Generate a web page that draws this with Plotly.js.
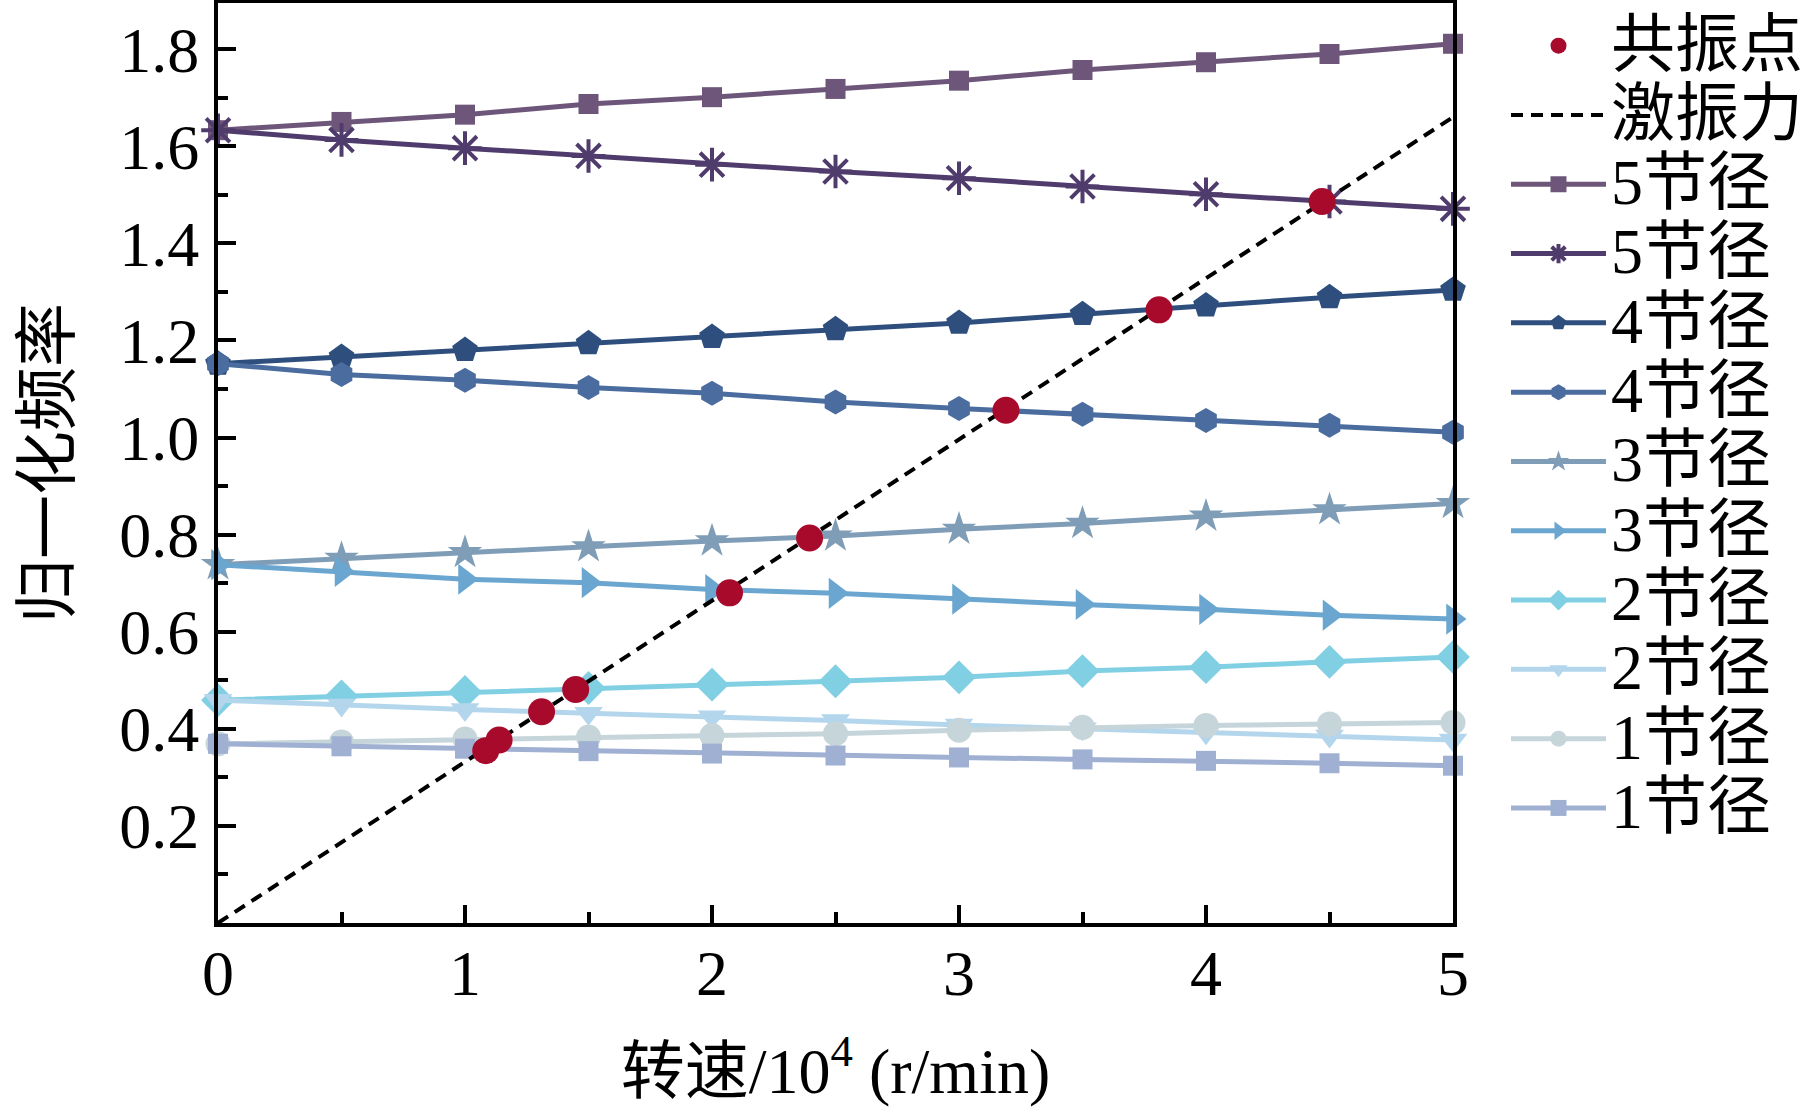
<!DOCTYPE html>
<html>
<head>
<meta charset="utf-8">
<script src="https://cdn.plot.ly/plotly-3.0.1.min.js"></script>
<style>html,body{margin:0;padding:0;background:#fff;}#chart{width:1819px;height:1112px;}</style>
</head>
<body>
<div id="chart"></div>
<script>
// ---- data ----
const speed = [0, 0.5, 1, 1.5, 2, 2.5, 3, 3.5, 4, 4.5, 5];

const nd5a = [1.633, 1.650, 1.665, 1.687, 1.701, 1.718, 1.735, 1.757, 1.773, 1.790, 1.811];
const nd5b = [1.633, 1.613, 1.596, 1.580, 1.562, 1.548, 1.534, 1.517, 1.501, 1.486, 1.471];
const nd4a = [1.152, 1.166, 1.180, 1.194, 1.207, 1.223, 1.236, 1.254, 1.272, 1.289, 1.304];
const nd4b = [1.152, 1.130, 1.118, 1.103, 1.091, 1.073, 1.060, 1.048, 1.035, 1.025, 1.011];
const nd3a = [0.738, 0.751, 0.763, 0.775, 0.787, 0.797, 0.811, 0.823, 0.838, 0.851, 0.864];
const nd3b = [0.738, 0.724, 0.708, 0.701, 0.687, 0.679, 0.667, 0.656, 0.646, 0.634, 0.626];
const nd2a = [0.459, 0.467, 0.476, 0.484, 0.491, 0.498, 0.506, 0.519, 0.527, 0.538, 0.548];
const nd2b = [0.459, 0.449, 0.440, 0.432, 0.425, 0.417, 0.408, 0.400, 0.392, 0.385, 0.377];
const nd1a = [0.369, 0.373, 0.379, 0.383, 0.386, 0.390, 0.397, 0.403, 0.407, 0.410, 0.413];
const nd1b = [0.369, 0.364, 0.359, 0.354, 0.349, 0.345, 0.341, 0.337, 0.334, 0.329, 0.324];

// excitation force line (end points)
const excX = [0, 5];
const excY = [0, 1.66];

// resonance points
const resX = [1.084, 1.138, 1.310, 1.448, 2.071, 2.395, 3.190, 3.810, 4.470];
const resY = [0.355, 0.377, 0.435, 0.481, 0.680, 0.793, 1.056, 1.263, 1.486];

const xTicks = [0, 1, 2, 3, 4, 5];
const xTickText = ['0', '1', '2', '3', '4', '5'];
const yTicks = [0.2, 0.4, 0.6, 0.8, 1.0, 1.2, 1.4, 1.6, 1.8];
const yTickText = ['0.2', '0.4', '0.6', '0.8', '1.0', '1.2', '1.4', '1.6', '1.8'];

const seriesNames = ['5节径', '5节径', '4节径', '4节径', '3节径', '3节径', '2节径', '2节径', '1节径', '1节径'];
const resName = '共振点';
const excName = '激振力';
const xTitle = '转速/10<sup>4</sup> (r/min)';
const yTitle = '归一化频率';

// ---- styling ----
const FONT = '"Liberation Serif", "Times New Roman", "Noto Sans CJK SC", serif';
const series = [
  {y: nd5a, color: '#6d5679', symbol: 'square', size: 20},
  {y: nd5b, color: '#503c6c', symbol: 'asterisk-open', size: 28},
  {y: nd4a, color: '#2e4f7d', symbol: 'pentagon', size: 27},
  {y: nd4b, color: '#4a6c9e', symbol: 'hexagon', size: 25},
  {y: nd3a, color: '#7f9db7', symbol: 'star', size: 26},
  {y: nd3b, color: '#6aa6cf', symbol: 'triangle-right', size: 27},
  {y: nd2a, color: '#80cfe3', symbol: 'diamond', size: 26},
  {y: nd2b, color: '#b4d6ec', symbol: 'triangle-down', size: 25},
  {y: nd1a, color: '#c6d5da', symbol: 'circle', size: 25},
  {y: nd1b, color: '#9fb0d2', symbol: 'square', size: 20}
];

const big = s => '<span style="font-size:64px">' + s + '</span>';

const traces = [];
series.forEach((s, i) => {
  traces.push({
    x: speed, y: s.y, type: 'scatter', mode: 'lines+markers',
    name: big(seriesNames[i]), legendrank: 3 + i, cliponaxis: false,
    line: {color: s.color, width: 5},
    marker: {symbol: s.symbol, size: s.size, color: s.color,
             line: {color: s.color, width: s.symbol === 'asterisk-open' ? 4 : 0}}
  });
});
traces.push({
  x: excX, y: excY, type: 'scatter', mode: 'lines', name: big(excName),
  legendrank: 2, cliponaxis: false,
  line: {color: '#000000', width: 4, dash: '12px,8px'}
});
traces.push({
  x: resX, y: resY, type: 'scatter', mode: 'markers', name: big(resName),
  legendrank: 1, cliponaxis: false,
  marker: {symbol: 'circle', size: 27, color: '#a80a2b'}
});

const axisCommon = {
  showgrid: false, zeroline: false, showline: true, mirror: true,
  linecolor: '#000', linewidth: 4,
  ticks: 'inside', ticklen: 18, tickwidth: 4, tickcolor: '#000',
  tickfont: {family: FONT, size: 64, color: '#000'},
  tickmode: 'array'
};

const layout = {
  width: 1819, height: 1112,
  paper_bgcolor: '#fff', plot_bgcolor: '#fff',
  margin: {l: 218, r: 366, t: 3, b: 189},
  showlegend: true,
  font: {family: FONT, color: '#000'},
  xaxis: Object.assign({}, axisCommon, {
    range: [0, 5], tickvals: xTicks, ticktext: xTickText,
    ticklabelstandoff: -9,
    minor: {tickmode: 'linear', tick0: 0, dtick: 0.5, ticks: 'inside', ticklen: 11, tickwidth: 4, tickcolor: '#000'},
    title: {text: xTitle, font: {family: FONT, size: 64, color: '#000'}, standoff: 41}
  }),
  yaxis: Object.assign({}, axisCommon, {
    range: [0, 1.895], tickvals: yTicks, ticktext: yTickText,
    ticklabelstandoff: 2,
    minor: {tickmode: 'linear', tick0: 0, dtick: 0.1, ticks: 'inside', ticklen: 10, tickwidth: 4, tickcolor: '#000'},
    title: {text: yTitle, font: {family: FONT, size: 64, color: '#000'}, standoff: 30}
  }),
  legend: {
    xref: 'container', yref: 'container',
    x: 1506 / 1819, y: 1 - 6 / 1112, xanchor: 'left', yanchor: 'top',
    maxheight: 1100,
    font: {family: FONT, size: 51, color: '#000'},
    bgcolor: 'rgba(0,0,0,0)', borderwidth: 0,
    traceorder: 'normal', itemwidth: 95, tracegroupgap: 0
  }
};

Plotly.newPlot('chart', traces, layout, {displayModeBar: false, staticPlot: true});
</script>
</body>
</html>
